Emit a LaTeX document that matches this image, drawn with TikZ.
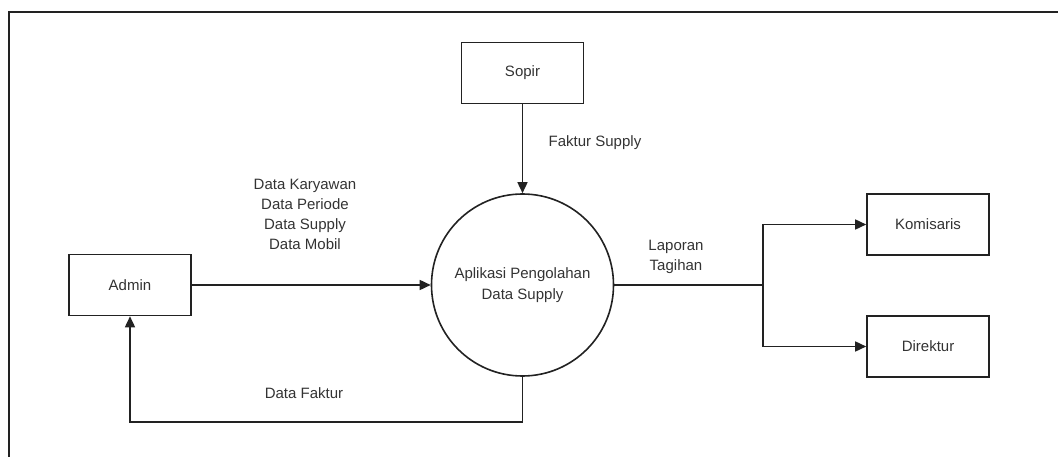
\documentclass[tikz,border=0pt]{standalone}
\usepackage{fontspec}
\setmainfont{Liberation Sans}
\usetikzlibrary{arrows.meta}
\definecolor{linec}{HTML}{222222}
\definecolor{textc}{HTML}{333333}
\begin{document}
\begin{tikzpicture}[x=1pt,y=-1pt,
  box/.style={draw=linec, line width=1.6pt, minimum width=122pt, minimum height=61pt, inner sep=0pt, font=\fontsize{15}{20}\selectfont, text=textc},
  proc/.style={circle, draw=linec, line width=1.6pt, minimum size=182pt, inner sep=0pt, align=center, font=\fontsize{15}{21}\selectfont, text=textc},
  link/.style={draw=linec, line width=1.6pt},
  flow/.style={link, -{Triangle[length=11pt,width=10pt]}},
  lbl/.style={align=center, font=\fontsize{15}{20}\selectfont, text=textc, inner sep=0pt},
  frame/.style={draw=linec, line width=1.8pt}]
\useasboundingbox (0,0) rectangle (1058,457);
\coordinate (fa) at (9,457);
\coordinate (fb) at (9,12);
\coordinate (fc) at (1058,12);
\draw[frame] (fa) -- (fb) -- (fc);

\node[box] (admin) at (130,285) {Admin};
\node[box] (sopir) at (522.5,73) {Sopir};
\node[proc] (proc) at (522.5,285) {Aplikasi Pengolahan\\Data Supply};
\node[box] (kom) at (928,224.5) {Komisaris};
\node[box] (dir) at (928,346.5) {Direktur};

\draw[flow] (admin.east) -- (proc.west);
\draw[flow] (sopir.south) -- (proc.north);
\coordinate (back) at (0,422);
\draw[flow] (proc.south) -- (proc.south |- back) -| (admin.south);
\coordinate (split) at (763,285);
\draw[link] (proc.east) -- (split);
\draw[flow] (split) |- (kom.west);
\draw[flow] (split) |- (dir.west);

\node[lbl] (ldata) at (305,214.5) {Data Karyawan\\Data Periode\\Data Supply\\Data Mobil};
\node[lbl] (lfs) at (595,143) {Faktur Supply};
\node[lbl] (ldf) at (304,393) {Data Faktur};
\node[lbl] (llt) at (676,257) {Laporan\\Tagihan};
\end{tikzpicture}
\end{document}
